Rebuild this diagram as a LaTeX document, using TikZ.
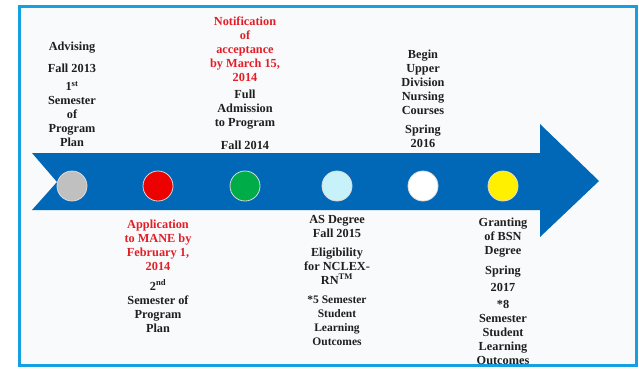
\documentclass[tikz,border=0pt]{standalone}
\usepackage{fontspec}
\setmainfont{Liberation Serif}
\definecolor{framecyan}{RGB}{20,160,225}
\definecolor{arrowblue}{RGB}{0,104,182}
\definecolor{txtred}{RGB}{228,30,38}
\definecolor{bgpanel}{RGB}{249,250,251}
\definecolor{cgray}{RGB}{192,192,192}
\definecolor{cred}{RGB}{236,0,0}
\definecolor{cgreen}{RGB}{0,172,72}
\definecolor{ccyan}{RGB}{200,242,250}
\definecolor{cyellow}{RGB}{255,240,0}
\tikzset{
  lbl/.style={align=center,font=\bfseries\fontsize{12.3}{14}\selectfont,inner sep=0pt,text=black!88},
  rlbl/.style={lbl,text=txtred},
  dot/.style={circle,minimum size=30pt,inner sep=0pt,draw=white!85!black,line width=0.8pt}
}
\begin{document}
\begin{tikzpicture}[x=1pt,y=-1pt]
\useasboundingbox (0,0) rectangle (639,368);
\fill[white] (0,0) rectangle (639,368);
\draw[framecyan,line width=3pt,fill=bgpanel] (19.5,6.5) rectangle (636,365);
% arrow
\fill[arrowblue] (32,153) -- (540,153) -- (540,124) -- (599,181) -- (540,237) -- (540,210) -- (32,210) -- (57,182) -- cycle;
% dots
\node[dot,fill=cgray] (d1) at (72,186) {};
\node[dot,fill=cred] (d2) at (158,186) {};
\node[dot,fill=cgreen] (d3) at (245,186) {};
\node[dot,fill=ccyan] (d4) at (337,186) {};
\node[dot,fill=white] (d5) at (423,186) {};
\node[dot,fill=cyellow] (d6) at (503,186) {};
% column 1
\node[lbl] (a1) at (72,48) {Advising};
\node[lbl] (a2) at (72,68) {Fall 2013};
\node[lbl] (a3) at (72,114) {1\textsuperscript{st}\\Semester\\of\\Program\\Plan};
% column 3 top
\node[rlbl] (n1) at (245,49) {Notification\\of\\acceptance\\by March 15,\\2014};
\node[lbl] (n2) at (245,110) {Full\\Admission\\to Program};
\node[lbl] (n3) at (245,145) {Fall 2014};
% column 5 top
\node[lbl] (b1) at (423,82) {Begin\\Upper\\Division\\Nursing\\Courses};
\node[lbl] (b2) at (423,136) {Spring\\2016};
% column 2 bottom
\node[rlbl] (p1) at (158,245) {Application\\to MANE by\\February 1,\\2014};
\node[lbl] (p2) at (158,306) {2\textsuperscript{nd}\\Semester of\\Program\\Plan};
% column 4 bottom
\node[lbl] (s1) at (337,226) {AS Degree\\Fall 2015};
\node[lbl] (s2) at (337,266) {Eligibility\\for NCLEX-\\RN\textsuperscript{TM}};
\node[lbl,font=\bfseries\fontsize{11.5}{14}\selectfont] (s3) at (337,321) {*5 Semester\\Student\\Learning\\Outcomes};
% column 6 bottom
\node[lbl] (g1) at (503,238) {Granting\\of BSN\\Degree};
\node[lbl] (g2) at (503,272) {Spring};
\node[lbl] (g3) at (503,287) {2017};
\node[lbl] (g4) at (503,332) {*8\\Semester\\Student\\Learning\\Outcomes};
\end{tikzpicture}
\end{document}
